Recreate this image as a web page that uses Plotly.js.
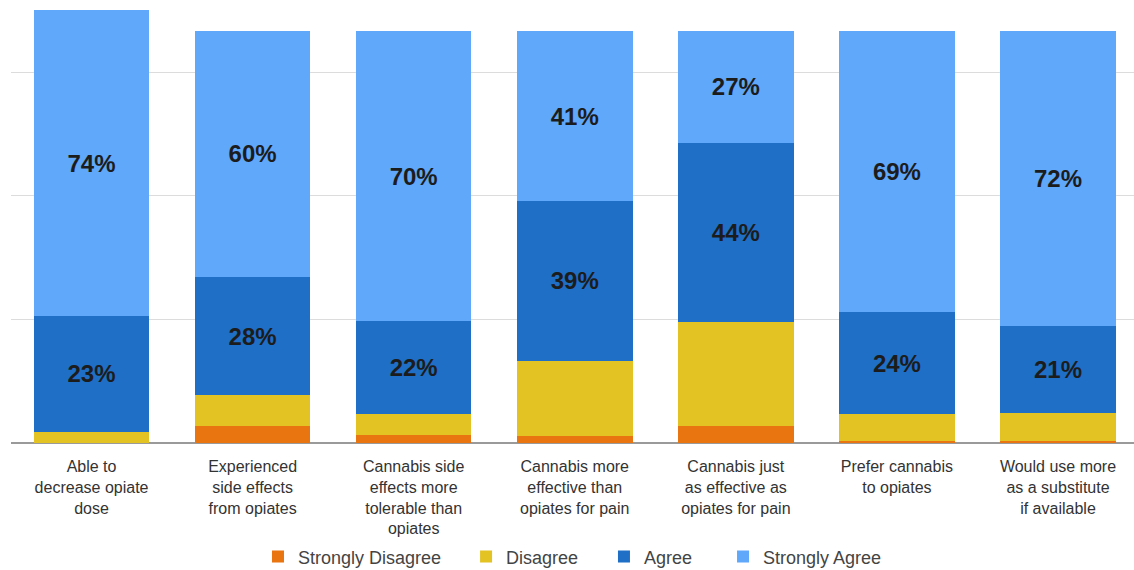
<!DOCTYPE html>
<html>
<head>
<meta charset="utf-8">
<script src="https://cdn.plot.ly/plotly-3.0.1.min.js"></script>
<style>html,body{margin:0;padding:0;background:#fff;}#chart{width:1134px;height:570px;}</style>
</head>
<body>
<div id="chart"></div>
<script>
const categories = [
  "Able to<br>decrease opiate<br>dose",
  "Experienced<br>side effects<br>from opiates",
  "Cannabis side<br>effects more<br>tolerable than<br>opiates",
  "Cannabis more<br>effective than<br>opiates for pain",
  "Cannabis just<br>as effective as<br>opiates for pain",
  "Prefer cannabis<br>to opiates",
  "Would use more<br>as a substitute<br>if available"
];
const stronglyDisagree = [0, 4.1, 2.0, 1.8, 4.2, 0.4, 0.4];
const disagree = [2.7, 7.5, 5.1, 18.2, 25.2, 6.7, 6.8];
const agree = [28.1, 28.7, 22.4, 38.7, 43.5, 24.6, 21.3];
const stronglyAgree = [74.2, 59.7, 70.4, 41.3, 27.1, 68.4, 71.5];
const agreeLabels = ["23%", "28%", "22%", "39%", "44%", "24%", "21%"];
const stronglyAgreeLabels = ["74%", "60%", "70%", "41%", "27%", "69%", "72%"];

const labelFont = {family: "Liberation Sans, Arial, sans-serif", size: 24, color: "#1c1c1c"};
function mk(name, y, color, labels, legendId) {
  const t = {type: "bar", name: name, x: categories, y: y, marker: {color: color, line: {width: 0}},
             hoverinfo: "skip", legend: legendId};
  if (labels) {
    t.text = labels;
    t.texttemplate = "<b>%{text}</b>";
    t.textposition = "inside";
    t.insidetextanchor = "middle";
    t.textangle = 0;
    t.constraintext = "none";
    t.insidetextfont = labelFont;
  } else {
    t.textposition = "none";
  }
  return t;
}
const data = [
  mk("Strongly Disagree", stronglyDisagree, "#e8750f", null, "legend"),
  mk("Disagree", disagree, "#e3c224", null, "legend2"),
  mk("Agree", agree, "#1f6fc7", agreeLabels, "legend3"),
  mk("Strongly Agree", stronglyAgree, "#60a8fa", stronglyAgreeLabels, "legend4")
];
function leg(x) {
  return {orientation: "h", xref: "container", x: x, xanchor: "left", yref: "container", y: 0.023,
          yanchor: "middle", font: {size: 18, color: "#444"}, bgcolor: "rgba(0,0,0,0)"};
}
const layout = {
  width: 1134, height: 570,
  margin: {l: 11, r: 0, t: 5, b: 127},
  barmode: "stack",
  bargap: 0.283,
  paper_bgcolor: "#fff", plot_bgcolor: "#fff",
  font: {family: "Liberation Sans, Arial, sans-serif", color: "#333"},
  xaxis: {
    type: "category", range: [-0.5, 6.472], ticks: "", showgrid: false,
    tickfont: {size: 16, color: "#333"}, showline: false, fixedrange: true,
    ticklabelstandoff: 12
  },
  yaxis: {
    range: [0, 106.3], dtick: 30, showticklabels: false, gridcolor: "#dcdcdc", gridwidth: 1,
    zeroline: true, zerolinecolor: "#9a9a9a", zerolinewidth: 2, fixedrange: true
  },
  showlegend: true,
  legend: leg(0.2275),
  legend2: leg(0.411),
  legend3: leg(0.5326),
  legend4: leg(0.6376)
};
Plotly.newPlot("chart", data, layout, {displayModeBar: false, staticPlot: true});
</script>
</body>
</html>
